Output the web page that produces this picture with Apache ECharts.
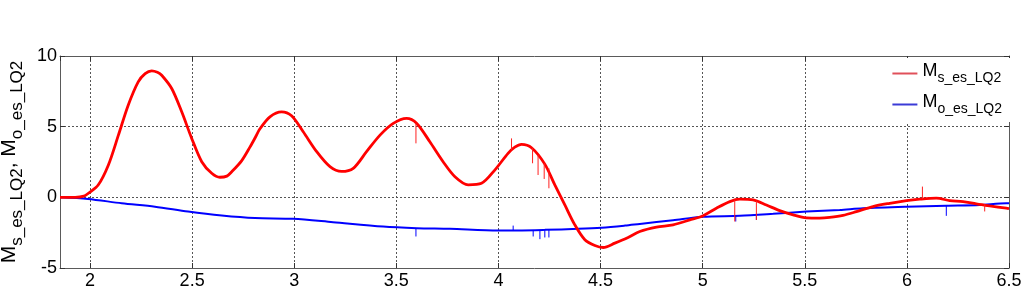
<!DOCTYPE html>
<html>
<head>
<meta charset="utf-8">
<script src="https://cdn.jsdelivr.net/npm/echarts@6/dist/echarts.min.js"></script>
<style>
html,body{margin:0;padding:0;background:#fff;}
#chart{width:1024px;height:295px;}
</style>
</head>
<body>
<div id="chart"></div>
<script>
// ---- data ----
const redX = [1.853,1.927,1.97,1.992,2.04,2.09,2.139,2.187,2.236,2.27,2.302,2.33,2.351,2.40,2.449,2.498,2.547,2.596,2.636,2.67,2.694,2.743,2.783,2.808,2.832,2.881,2.938,2.987,3.044,3.11,3.175,3.232,3.289,3.354,3.42,3.485,3.55,3.6,3.664,3.729,3.787,3.852,3.917,3.982,4.047,4.08,4.113,4.162,4.227,4.276,4.325,4.374,4.423,4.472,4.513,4.57,4.635,4.692,4.774,4.855,4.937,5.002,5.067,5.133,5.182,5.247,5.312,5.377,5.443,5.508,5.573,5.622,5.687,5.753,5.834,5.916,5.998,6.063,6.144,6.21,6.275,6.34,6.405,6.487,6.5];
const redY = [0,0,0.08,0.29,0.87,2.29,4.4,6.52,8.17,8.75,8.95,8.85,8.64,7.7,6.05,4.17,2.52,1.7,1.42,1.5,1.81,2.6,3.55,4.2,4.85,5.7,6.05,5.77,4.64,3.23,2.17,1.83,2.05,3.23,4.4,5.23,5.58,5.23,3.93,2.52,1.46,0.88,0.99,1.93,3.11,3.55,3.75,3.51,2.35,0.88,-0.54,-1.95,-3.0,-3.41,-3.55,-3.24,-2.84,-2.42,-2.11,-1.95,-1.6,-1.3,-0.77,-0.3,-0.13,-0.18,-0.54,-0.94,-1.24,-1.45,-1.47,-1.42,-1.28,-1.01,-0.65,-0.42,-0.23,-0.13,-0.06,-0.23,-0.3,-0.47,-0.61,-0.77,-0.8];

const blueX = [1.853,1.99,2.155,2.318,2.48,2.645,2.808,2.995,3.19,3.435,3.6,3.762,3.999,4.227,4.39,4.505,4.619,4.692,4.855,5.0,5.182,5.345,5.508,5.671,5.785,5.998,6.193,6.356,6.487,6.5];
const blueY = [0,-0.11,-0.42,-0.66,-1.01,-1.29,-1.47,-1.52,-1.76,-2.07,-2.18,-2.23,-2.35,-2.3,-2.23,-2.15,-2.0,-1.88,-1.62,-1.38,-1.31,-1.17,-1.01,-0.89,-0.77,-0.66,-0.59,-0.54,-0.42,-0.42];

// spikes (glitches): x, curve value, spike tip
const redSpikeX    = [3.596,4.064,4.167,4.194,4.224,4.247,5.157,5.263,6.076,6.381];
const redSpikeBase = [5.23,3.35,3.5,2.99,2.41,2.05,-0.18,-0.25,-0.13,-0.5];
const redSpikeTip  = [3.82,4.17,2.41,1.58,1.30,0.64,-1.71,-1.6,0.76,-1.0];

const blueSpikeX    = [3.596,4.072,4.17,4.203,4.227,4.247,5.162,5.263,6.193];
const blueSpikeBase = [-2.18,-2.35,-2.32,-2.31,-2.3,-2.3,-1.3,-1.25,-0.6];
const blueSpikeTip  = [-2.77,-2.0,-2.77,-2.96,-2.84,-2.84,-1.71,-1.6,-1.31];

const yTicks = [-5,0,5,10];

// ---- build ----
function pairs(xs, ys){ return xs.map((x,i)=>[x, ys[i]]); }
function spikes(xs, b, t){
  const out = [];
  xs.forEach((x,i)=>{ out.push([x,b[i]]); out.push([x,t[i]]); out.push('-'); });
  return out;
}
const FONT = '"Liberation Sans", Arial, sans-serif';
const gridLine = {show:true, lineStyle:{color:'#555', type:[2,2], width:1}};
const axisLineStyle = {color:'#5a5a5a', width:1};

const chart = echarts.init(document.getElementById('chart'), null, {renderer:'canvas'});
chart.setOption({
  animation:false,
  backgroundColor:'#fff',
  grid:{left:60, right:15, top:56, bottom:27, containLabel:false, outerBoundsMode:'none'},
  legend:{
    data:['Ms','Mo'],
    orient:'vertical',
    right:14, top:58,
    backgroundColor:'#fff',
    padding:[4,8,6,4],
    itemGap:8,
    itemWidth:25, itemHeight:2,
    icon:'rect',
    formatter:function(n){ return n==='Ms' ? '{m|M}{s|s_es_LQ2}' : '{m|M}{s|o_es_LQ2}'; },
    textStyle:{
      fontFamily:FONT, color:'#000',
      rich:{
        m:{fontSize:18, fontFamily:FONT, color:'#000', verticalAlign:'bottom', padding:[0,0,5,0]},
        s:{fontSize:14, fontFamily:FONT, color:'#000', verticalAlign:'bottom'}
      }
    }
  },
  xAxis:[{
    type:'value', min:1.853, max:6.5, splitNumber:9,
    axisLine:{show:true, onZero:false, lineStyle:axisLineStyle},
    axisTick:{show:true, inside:true, length:5, lineStyle:{color:'#333'}},
    axisLabel:{show:true, showMinLabel:false, color:'#000', fontSize:18, fontFamily:FONT, margin:4},
    splitLine:gridLine
  },{
    type:'value', min:1.853, max:6.5, splitNumber:9, position:'top',
    axisLine:{show:true, onZero:false, lineStyle:axisLineStyle},
    axisTick:{show:true, inside:true, length:5, lineStyle:{color:'#333'}},
    axisLabel:{show:false}, splitLine:{show:false}
  }],
  yAxis:[{
    type:'value', min:yTicks[0], max:yTicks[yTicks.length-1], interval:5,
    axisLine:{show:true, onZero:false, lineStyle:axisLineStyle},
    axisTick:{show:true, inside:true, length:5, lineStyle:{color:'#333'}},
    axisLabel:{color:'#000', fontSize:18, fontFamily:FONT, margin:3},
    splitLine:gridLine,
    name:'{m|M}{s|s_es_LQ2}{m|, M}{s|o_es_LQ2}',
    nameLocation:'middle', nameRotate:90, nameGap:29,
    nameTextStyle:{
      fontFamily:FONT, color:'#000',
      rich:{
        m:{fontSize:21, fontFamily:FONT, color:'#000', verticalAlign:'bottom', padding:[0,0,6,0]},
        s:{fontSize:17, fontFamily:FONT, color:'#000', verticalAlign:'bottom'}
      }
    }
  },{
    type:'value', min:-5, max:10, interval:5, position:'right',
    axisLine:{show:true, onZero:false, lineStyle:axisLineStyle},
    axisTick:{show:true, inside:true, length:5, lineStyle:{color:'#333'}},
    axisLabel:{show:false}, splitLine:{show:false}
  }],
  series:[
    {name:'Mo', type:'line', data:pairs(blueX, blueY), smooth:0.3, showSymbol:false, symbol:'none',
     lineStyle:{color:'#0000ff', width:2}, itemStyle:{color:'#3b3bd6'}, z:2},
    {name:'blueSpikes', type:'line', data:spikes(blueSpikeX, blueSpikeBase, blueSpikeTip), showSymbol:false, symbol:'none',
     connectNulls:false, lineStyle:{color:'#0000ff', width:1}, z:2},
    {name:'Ms', type:'line', data:pairs(redX, redY), smooth:0.3, showSymbol:false, symbol:'none',
     lineStyle:{color:'#ff0000', width:2.8}, itemStyle:{color:'#e0505a'}, z:3},
    {name:'redSpikes', type:'line', data:spikes(redSpikeX, redSpikeBase, redSpikeTip), showSymbol:false, symbol:'none',
     connectNulls:false, lineStyle:{color:'#ff2020', width:1}, z:3}
  ]
});
</script>
</body>
</html>
